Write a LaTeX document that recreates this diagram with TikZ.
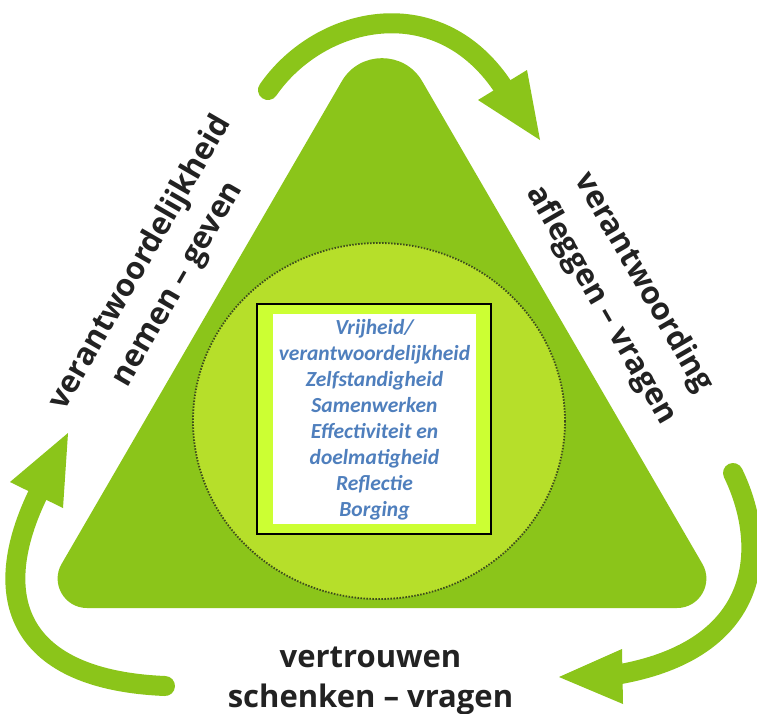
\documentclass[tikz,border=0pt]{standalone}
\usepackage{fontspec}
\usetikzlibrary{calc}
\newfontfamily\lblfont{Open Sans}
\newfontfamily\valfont{Carlito}
\definecolor{trigreen}{HTML}{8BC51A}
\definecolor{circgreen}{HTML}{B6DF2A}
\definecolor{boxlime}{HTML}{CCFF33}
\definecolor{valblue}{HTML}{4F7FBD}
\definecolor{lbldark}{HTML}{222222}
\definecolor{dotdark}{HTML}{3E4C1C}
\begin{document}
\begin{tikzpicture}[x=1pt,y=-1pt,
  lbl/.style={font=\lblfont\bfseries\fontsize{31}{40}\selectfont, text=lbldark, inner sep=0pt},
  vals/.style={font=\valfont\bfseries\itshape\fontsize{21.5}{26}\selectfont, text=valblue, align=center, inner sep=0pt},
  cyclearrow/.style={draw=trigreen, line width=20pt, line cap=round},
  arrowhead/.style={fill=trigreen}]
\useasboundingbox[fill=white] (0,0) rectangle (757,713);

% cycle arrows
\coordinate (topS) at (268,90);
\coordinate (topE) at (505,90);
\draw[cyclearrow] (topS) .. controls (320,15) and (440,-12) .. (topE);
\fill[arrowhead] (540,140) -- (478,100) -- (527,70) -- cycle;

\coordinate (rgtS) at (733,473);
\coordinate (rgtE) at (615,675);
\draw[cyclearrow] (rgtS) .. controls (768,545) and (765,650) .. (rgtE);
\fill[arrowhead] (559,677) -- (622,649) -- (623,704) -- cycle;

\coordinate (lftS) at (165,686);
\coordinate (lftE) at (40,490);
\draw[cyclearrow] (lftS) .. controls (20,680) and (-15,600) .. (lftE);
\fill[arrowhead] (68,433) -- (10,482) -- (63,508) -- cycle;

% triangle
\coordinate (BL) at (36,608);
\coordinate (AP) at (382,12);
\coordinate (BR) at (728,608);
\fill[trigreen] ($(BL)!51pt!(BR)$) -- ($(BR)!51pt!(BL)$)
  .. controls ($(BR)!28.4pt!(BL)$) and ($(BR)!28.4pt!(AP)$) .. ($(BR)!51pt!(AP)$)
  -- ($(AP)!80pt!(BR)$)
  .. controls ($(AP)!44.5pt!(BR)$) and ($(AP)!44.5pt!(BL)$) .. ($(AP)!80pt!(BL)$)
  -- ($(BL)!51pt!(AP)$)
  .. controls ($(BL)!28.4pt!(AP)$) and ($(BL)!28.4pt!(BR)$) .. ($(BL)!51pt!(BR)$) -- cycle;

% inner circle
\fill[circgreen] (379,421) ellipse [x radius=186, y radius=178];
\draw[dotdark, line width=1.8pt, dash pattern=on 1.5pt off 1.5pt] (379,421) ellipse [x radius=186, y radius=178];

% central box
\draw[black, line width=1.3pt, fill=boxlime] (257,304) rectangle (491,534);
\fill[white] (273,314) rectangle (476,524);
\node[vals] (values) at (374.5,420) {Vrijheid/\\verantwoordelijkheid\\Zelfstandigheid\\Samenwerken\\Effectiviteit en\\doelmatigheid\\Reflectie\\Borging};

% side labels
\node[lbl, rotate=60] (leftA) at (141,263) {verantwoordelijkheid};
\node[lbl, rotate=60] (leftB) at (181,286) {nemen – geven};
\node[lbl, rotate=-60] (rightA) at (643,283) {verantwoording};
\node[lbl, rotate=-60] (rightB) at (601,305) {afleggen – vragen};
\node[lbl, anchor=base] (botA) at (370.5,667) {vertrouwen};
\node[lbl, anchor=base] (botB) at (370.5,707) {schenken – vragen};
\end{tikzpicture}
\end{document}
